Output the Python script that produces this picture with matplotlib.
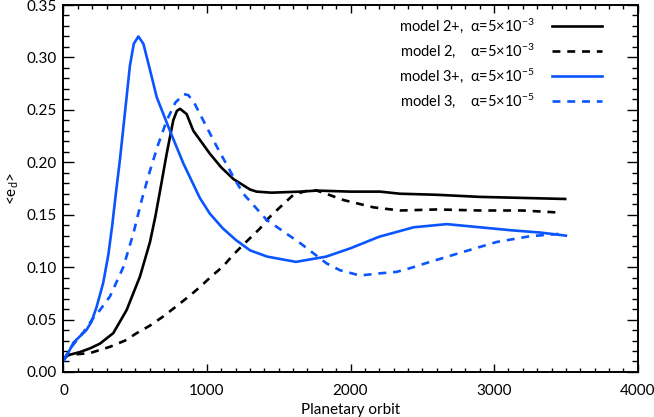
"""eccentricity evolution of the disc for the four models"""

import numpy as np
import matplotlib.pyplot as plt
from matplotlib.ticker import MultipleLocator, FormatStrFormatter

plt.rcParams['font.family'] = ['Lato', 'DejaVu Sans']
plt.rcParams['mathtext.fontset'] = 'custom'
plt.rcParams['mathtext.rm'] = 'Lato'
plt.rcParams['mathtext.it'] = 'Lato:italic'

# model 2+, alpha=5e-3 (black solid)
x2p = [0, 30, 60, 115, 185, 254, 347, 440, 533, 603, 640, 680, 719, 765, 790, 812, 858, 905,
       1021, 1100, 1184, 1300, 1346, 1450, 1648, 1765, 2000, 2206, 2345, 2600, 2900, 3200, 3495]
e2p = [0.012, 0.016, 0.017, 0.019, 0.0225, 0.027, 0.037, 0.059, 0.091, 0.124, 0.148, 0.178, 0.208,
       0.240, 0.249, 0.251, 0.246, 0.230, 0.208, 0.195, 0.184, 0.174, 0.172, 0.171, 0.172, 0.173, 0.172,
       0.172, 0.170, 0.169, 0.167, 0.166, 0.165]

# model 2, alpha=5e-3 (black dashed)
x2 = [0, 30, 100, 185, 324, 430, 510, 600, 696, 790, 882, 951, 1021, 1114, 1184, 1280, 1370,
      1416, 1500, 1602, 1700, 1765, 1850, 1950, 2160, 2345, 2600, 2900, 3200, 3460]
e2 = [0.012, 0.016, 0.017, 0.018, 0.024, 0.030, 0.037, 0.044, 0.053, 0.063, 0.073, 0.081, 0.090,
      0.101, 0.112, 0.125, 0.137, 0.145, 0.156, 0.169, 0.173, 0.173, 0.169, 0.164, 0.157, 0.154, 0.155,
      0.154, 0.154, 0.152]

# model 3+, alpha=5e-5 (blue solid)
x3p = [0, 40, 70, 115, 160, 196, 231, 277, 313, 340, 365, 394, 429, 463, 490, 522, 557, 603, 650, 742,
       835, 950, 1020, 1110, 1200, 1300, 1420, 1620, 1830, 2000, 2200, 2440, 2670, 2900, 3130, 3320, 3500]
e3p = [0.010, 0.020, 0.028, 0.034, 0.040, 0.048, 0.062, 0.085, 0.112, 0.140, 0.170, 0.203, 0.248,
       0.292, 0.313, 0.320, 0.313, 0.288, 0.262, 0.230, 0.199, 0.166, 0.151, 0.137, 0.126, 0.116, 0.110,
       0.105, 0.110, 0.118, 0.129, 0.138, 0.141, 0.138, 0.135, 0.133, 0.130]

# model 3, alpha=5e-5 (blue dashed)
x3 = [0, 68, 140, 200, 254, 324, 417, 487, 545, 603, 660, 720, 780, 840, 870, 910, 951, 1068, 1184,
      1253, 1416, 1648, 1834, 1927, 2066, 2200, 2322, 2415, 2554, 2787, 3019, 3251, 3483]
e3 = [0.012, 0.026, 0.038, 0.050, 0.059, 0.072, 0.100, 0.132, 0.164, 0.192, 0.217, 0.240, 0.257,
      0.265, 0.264, 0.257, 0.246, 0.215, 0.186, 0.170, 0.145, 0.123, 0.1035, 0.097, 0.092, 0.094,
      0.0955, 0.099, 0.105, 0.1146, 0.124, 0.1295, 0.132]

labels = ["model 2+,  α=5×10$^{-3}$",
          "model 2,    α=5×10$^{-3}$",
          "model 3+,  α=5×10$^{-5}$",
          "model 3,    α=5×10$^{-5}$"]

blue = "#0a55ff"
lw = 1.9
dash = (3.0, 2.6)

fig, ax = plt.subplots(figsize=(6.54, 4.17), dpi=100)
fig.subplots_adjust(left=0.097, right=0.975, top=0.988, bottom=0.108)

ax.plot(x2p, e2p, color="black", lw=lw, label=labels[0])
ax.plot(x2, e2, color="black", lw=lw, dashes=dash, label=labels[1])
ax.plot(x3p, e3p, color=blue, lw=lw, label=labels[2])
ax.plot(x3, e3, color=blue, lw=lw, dashes=dash, label=labels[3])

ax.set_xlim(0, 4000)
ax.set_ylim(0, 0.35)
ax.xaxis.set_major_locator(MultipleLocator(1000))
ax.xaxis.set_minor_locator(MultipleLocator(100))
ax.yaxis.set_major_locator(MultipleLocator(0.05))
ax.yaxis.set_minor_locator(MultipleLocator(0.01))
ax.yaxis.set_major_formatter(FormatStrFormatter("%.2f"))
ax.tick_params(axis="both", which="both", direction="in", top=True, right=True, width=1.0, labelsize=11)
ax.tick_params(axis="x", which="major", length=5.8, pad=9)
ax.tick_params(axis="x", which="minor", length=2.9)
ax.tick_params(axis="y", which="major", length=8, pad=5)
ax.tick_params(axis="y", which="minor", length=4.3)
for s in ax.spines.values():
    s.set_linewidth(1.4)

ax.set_xlabel("Planetary orbit", fontsize=11, labelpad=3)
ax.set_ylabel("<e$_\\mathrm{d}$>", fontsize=11, labelpad=4)

ax.legend(loc="upper right", bbox_to_anchor=(0.96, 1.005), frameon=False, markerfirst=False,
          handlelength=3.4, handletextpad=1.2, labelspacing=0.45, fontsize=10.5)

fig.savefig("out.png")
